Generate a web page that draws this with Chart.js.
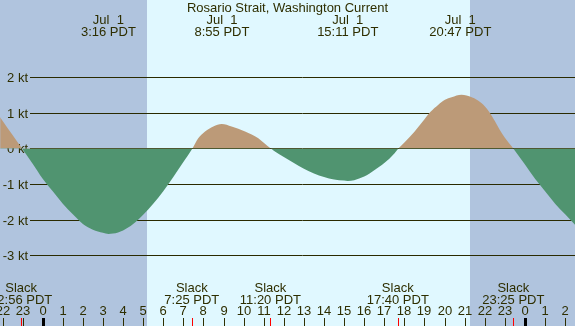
<!DOCTYPE html>
<html>
<head>
<meta charset="utf-8">
<script src="https://cdn.jsdelivr.net/npm/chart.js@4.4.1/dist/chart.umd.min.js"></script>
<style>
html,body{margin:0;padding:0;background:#b0c4de;}
#wrap{width:575px;height:326px;}
canvas{display:block;}
</style>
</head>
<body>
<div id="wrap"><canvas id="c" width="575" height="326"></canvas></div>
<script>
// ---- data (hours relative to Jul 1 00:00 PDT, current in knots) ----
const hours = [-2.12,-2.0,-1.5,-1.03,-0.5,0,0.5,1.0,1.5,2.0,2.5,3.0,3.27,3.5,4.0,4.5,5.0,5.5,6.0,6.5,7.0,7.45,7.74,8.08,8.49,8.91,9.4,10.07,10.73,11.0,11.35,11.5,12.0,12.5,13.0,13.5,14.0,14.5,15.0,15.18,15.5,16.0,16.5,17.0,17.5,17.7,18.0,18.5,19.0,19.3,19.69,20.02,20.35,20.84,21.35,21.6,21.93,22.26,22.5,22.75,23.0,23.42,24.0,24.5,25.0,25.5,26.0,26.5];
const knots = [0.88,0.78,0.38,0,-0.43,-0.85,-1.2,-1.55,-1.85,-2.12,-2.28,-2.37,-2.40,-2.39,-2.30,-2.12,-1.86,-1.55,-1.20,-0.80,-0.38,0,0.29,0.48,0.62,0.69,0.62,0.48,0.29,0.16,0,-0.06,-0.24,-0.41,-0.57,-0.70,-0.80,-0.87,-0.90,-0.91,-0.89,-0.79,-0.61,-0.41,-0.14,0,0.17,0.47,0.82,1.03,1.23,1.37,1.44,1.51,1.44,1.37,1.23,1.0,0.77,0.52,0.30,0,-0.45,-0.85,-1.20,-1.55,-1.85,-2.15];

const title = 'Rosario Strait, Washington Current';
const maxTimes = [3.27, 8.92, 15.18, 20.78];
const maxDates = ['Jul  1','Jul  1','Jul  1','Jul  1'];
const maxLabels = ['3:16 PDT','8:55 PDT','15:11 PDT','20:47 PDT'];
const slackTimes = [-1.07, 7.42, 11.33, 17.67, 23.42];
const slackLabels = ['22:56 PDT','7:25 PDT','11:20 PDT','17:40 PDT','23:25 PDT'];
const hourTicks = [-2,-1,0,1,2,3,4,5,6,7,8,9,10,11,12,13,14,15,16,17,18,19,20,21,22,23,24,25,26];
const hourLabels = ['22','23','0','1','2','3','4','5','6','7','8','9','10','11','12','13','14','15','16','17','18','19','20','21','22','23','0','1','2'];
const midnights = [0, 24];
const yTicks = [2,1,0,-1,-2,-3];
const yLabels = ['2 kt','1 kt','0 kt','-1 kt','-2 kt','-3 kt'];
const sunrise = 5.19, sunset = 21.26;

const NIGHT = '#b0c4de', DAY = '#e0f8ff', FLOOD = '#bc9a78', EBB = '#509470';
const INK = '#2e2e00', GRID = '#2a2a00';
const FONT = "13px 'Liberation Sans', Arial, sans-serif";

const points = hours.map((h, i) => ({x: h, y: knots[i]}));

const deco = {
  id: 'deco',
  beforeDraw(chart) {
    const {ctx, scales: {x}} = chart;
    ctx.save();
    ctx.fillStyle = NIGHT;
    ctx.fillRect(0, 0, chart.width, chart.height);
    ctx.fillStyle = DAY;
    const x0 = Math.round(x.getPixelForValue(sunrise)), x1 = Math.round(x.getPixelForValue(sunset));
    ctx.fillRect(x0, 0, x1 - x0, chart.height);
    ctx.restore();
  },
  beforeDatasetsDraw(chart) {
    const {ctx, scales: {y}} = chart;
    ctx.save();
    ctx.strokeStyle = GRID;
    ctx.lineWidth = 1;
    ctx.fillStyle = INK;
    ctx.font = FONT;
    ctx.textAlign = 'right';
    ctx.textBaseline = 'alphabetic';
    yTicks.forEach((v, i) => {
      const py = Math.round(y.getPixelForValue(v)) + 0.5;
      ctx.beginPath();
      ctx.moveTo(30, py);
      ctx.lineTo(chart.width, py);
      ctx.stroke();
      ctx.fillText(yLabels[i], 28, py + 4.5);
    });
    ctx.restore();
  },
  afterDatasetsDraw(chart) {
    const {ctx, scales: {x}} = chart;
    ctx.save();
    ctx.fillStyle = INK;
    ctx.font = FONT;
    ctx.textAlign = 'center';
    ctx.textBaseline = 'alphabetic';
    ctx.fillText(title, chart.width / 2, 12);
    maxTimes.forEach((t, i) => {
      const px = x.getPixelForValue(t);
      ctx.fillText(maxDates[i], px, 23.5);
      ctx.fillText(maxLabels[i], px, 36);
    });
    slackTimes.forEach((t, i) => {
      const px = x.getPixelForValue(t);
      ctx.fillText('Slack', px, 292);
      ctx.fillText(slackLabels[i], px, 303.5);
    });
    hourTicks.forEach((h, i) => {
      const px = Math.round(x.getPixelForValue(h));
      ctx.fillStyle = INK;
      ctx.fillText(hourLabels[i], px, 315);
      ctx.fillRect(px, 318, 1, 8);
    });
    ctx.fillStyle = '#000000';
    midnights.forEach(h => {
      const px = Math.round(x.getPixelForValue(h));
      ctx.fillRect(px - 1, 318, 3, 8);
    });
    ctx.fillStyle = '#ff0000';
    slackTimes.forEach(t => {
      const px = Math.round(x.getPixelForValue(t));
      ctx.fillRect(px, 318, 1, 8);
    });
    ctx.restore();
  }
};

new Chart(document.getElementById('c'), {
  type: 'line',
  data: {
    datasets: [{
      data: points,
      borderWidth: 0,
      borderColor: 'rgba(0,0,0,0)',
      pointRadius: 0,
      cubicInterpolationMode: 'monotone',
      fill: {target: 'origin', above: FLOOD, below: EBB}
    }]
  },
  options: {
    responsive: false,
    devicePixelRatio: 1,
    animation: false,
    layout: {padding: 0},
    plugins: {legend: {display: false}, tooltip: {enabled: false}, title: {display: false}},
    scales: {
      x: {type: 'linear', min: -2.125, max: 26.49, display: false},
      y: {type: 'linear', min: -4.986, max: 4.171, display: false}
    }
  },
  plugins: [deco]
});
</script>
</body>
</html>
